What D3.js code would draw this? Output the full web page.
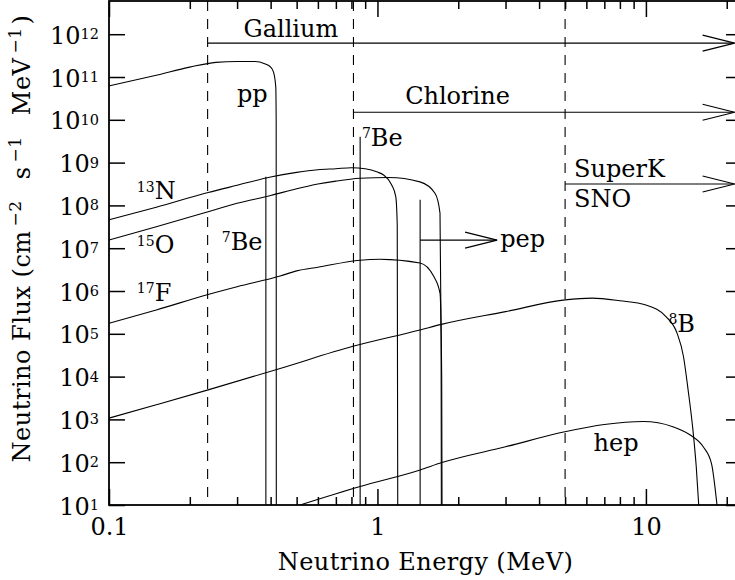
<!DOCTYPE html>
<html>
<head>
<meta charset="utf-8">
<script src="https://d3js.org/d3.v7.min.js"></script>
<style>
  body { margin: 0; background: #fff; }
  svg { display: block; font-family: "DejaVu Serif", serif; }
  text { fill: #000; }
</style>
</head>
<body>
<svg id="chart" width="735" height="580"></svg>
<script>
// energies in MeV, continuum fluxes in cm^-2 s^-1 MeV^-1, lines in cm^-2 s^-1
const ppE  = [0.1, 0.15, 0.2, 0.25, 0.3, 0.35, 0.38, 0.40, 0.41, 0.418, 0.4195, 0.42];
const ppF  = [6.2e10, 1.1e11, 1.7e11, 2.2e11, 2.3e11, 2.3e11, 2.05e11, 1.7e11, 1.3e11, 5.9e10, 1e10, 10];

const n13E = [0.1, 0.15, 0.234, 0.3, 0.4, 0.5, 0.6, 0.7, 0.8, 0.9, 1.0, 1.05, 1.13, 1.17, 1.185, 1.19];
const n13F = [4.6e7, 9.1e7, 2.0e8, 2.95e8, 4.6e8, 5.9e8, 6.8e8, 7.2e8, 7.6e8, 7.2e8, 6.0e8, 5.2e8, 3.0e8, 1.6e8, 3.5e7, 10];

const o15E = [0.1, 0.15, 0.234, 0.3, 0.4, 0.5, 0.6, 0.7, 0.86, 1.1, 1.44, 1.64, 1.71, 1.726, 1.73];
const o15F = [1.55e7, 3.16e7, 7.1e7, 1.12e8, 1.7e8, 2.45e8, 3.16e8, 3.7e8, 4.3e8, 4.5e8, 3.55e8, 1.9e8, 6.6e7, 1e5, 10];

const f17E = [0.1, 0.15, 0.234, 0.3, 0.434, 0.5, 0.6, 0.862, 1.02, 1.44, 1.62, 1.71, 1.735, 1.74];
const f17F = [1.76e5, 3.6e5, 8.3e5, 1.26e6, 2.24e6, 2.95e6, 3.6e6, 5.25e6, 5.5e6, 4.5e6, 2.2e6, 8.9e5, 1e4, 10];

const b8E  = [0.1, 0.15, 0.234, 0.434, 0.81, 1.44, 1.73, 3, 5, 6.3, 8, 10, 11.9, 13.05, 13.8, 14.36, 14.97, 15.4, 15.73];
const b8F  = [1.07e3, 2.2e3, 4.9e3, 1.55e4, 5.1e4, 1.23e5, 1.66e5, 3.3e5, 6.2e5, 6.8e5, 5.9e5, 4.7e5, 2.5e5, 1.05e5, 2.95e4, 4.9e3, 560, 78, 10];

const hepE = [0.515, 0.862, 1.442, 1.737, 3, 4.99, 7, 9.77, 12.6, 14.58, 16.35, 17.55, 18.4];
const hepF = [10, 27, 66, 98, 229, 513, 759, 891, 676, 437, 229, 93, 10];

// line sources
const lineE = [0.384, 0.862, 1.442];   // 7Be, 7Be, pep
const lineF = [4.7e8, 4.0e9, 1.35e8];

// detector thresholds and their arrows
const detectors   = ['Gallium', 'Chlorine', 'SuperK'];
const thresholdE  = [0.233, 0.814, 5.0];
const detectorF   = [6.2e11, 1.5e10, 3.16e8];
const arrowEndE   = 21.4;
const pepArrow    = {fromE: 1.442, toE: 2.79, F: 1.55e7};

// axes
const xMajor = [0.1, 1, 10];
const xMinor = [0.2, 0.3, 0.4, 0.5, 0.6, 0.7, 0.8, 0.9, 2, 3, 4, 5, 6, 7, 8, 9, 20];
const xLabels = ['0.1', '1', '10'];
const yExp = [1, 2, 3, 4, 5, 6, 7, 8, 9, 10, 11, 12];

const svg = d3.select('#chart');
const L = 109, R = 742, T = 1, B = 505;

const x = d3.scaleLog().domain([0.1, 22.8]).range([L, R]);
const y = d3.scaleLog().domain([10, 5.97e12]).range([B, T]);

svg.append('clipPath').attr('id', 'plot')
    .append('rect').attr('x', L).attr('y', T).attr('width', R - L).attr('height', B - T);

const plot = svg.append('g').attr('clip-path', 'url(#plot)');

// spectra
const spectra = [[ppE, ppF], [n13E, n13F], [o15E, o15F], [f17E, f17F], [b8E, b8F], [hepE, hepF]];
const line = d3.line()
    .x(d => x(d[0]))
    .y(d => y(d[1]))
    .curve(d3.curveMonotoneX);

plot.selectAll('path.spec')
    .data(spectra.map(s => d3.zip(s[0], s[1])))
    .join('path')
    .attr('class', 'spec')
    .attr('d', line)
    .attr('fill', 'none')
    .attr('stroke', '#000')
    .attr('stroke-width', 1.1);

// monochromatic lines
plot.selectAll('line.mono')
    .data(d3.zip(lineE, lineF))
    .join('line')
    .attr('x1', d => x(d[0])).attr('x2', d => x(d[0]))
    .attr('y1', y(10)).attr('y2', d => y(d[1]))
    .attr('stroke', '#000')
    .attr('stroke-width', 1.1);

// thresholds
plot.selectAll('line.thr')
    .data(thresholdE)
    .join('line')
    .attr('x1', d => x(d)).attr('x2', d => x(d))
    .attr('y1', T).attr('y2', B)
    .attr('stroke', '#000')
    .attr('stroke-width', 1.1)
    .attr('stroke-dasharray', '10,8');

// arrows
function arrow(e0, e1, f) {
    const yy = y(f), x0 = x(e0), x1 = x(e1);
    plot.append('line')
        .attr('x1', x0).attr('x2', x1).attr('y1', yy).attr('y2', yy)
        .attr('stroke', '#000').attr('stroke-width', 1.2);
    plot.append('path')
        .attr('d', `M${x1 - 32},${yy - 8}L${x1},${yy}L${x1 - 32},${yy + 8}`)
        .attr('fill', 'none').attr('stroke', '#000').attr('stroke-width', 1.2);
}
thresholdE.forEach((e, i) => arrow(e, arrowEndE, detectorF[i]));
arrow(pepArrow.fromE, pepArrow.toE, pepArrow.F);

// ticks
function styleAxis(g) {
    g.select('.domain').remove();
    g.attr('font-family', null).attr('font-size', null);
    g.selectAll('line').attr('stroke', '#000').attr('stroke-width', 1.5);
}
svg.append('g').attr('transform', `translate(0,${B})`)
    .call(d3.axisBottom(x).tickValues(xMajor).tickSize(-16).tickPadding(13)
        .tickFormat((d, i) => xLabels[i]))
    .call(styleAxis)
    .selectAll('text').attr('font-size', 24);
svg.append('g').attr('transform', `translate(0,${B})`)
    .call(d3.axisBottom(x).tickValues(xMinor).tickSize(-8).tickFormat(''))
    .call(styleAxis);
svg.append('g').attr('transform', `translate(0,${T})`)
    .call(d3.axisTop(x).tickValues(xMajor).tickSize(-16).tickFormat(''))
    .call(styleAxis);
svg.append('g').attr('transform', `translate(0,${T})`)
    .call(d3.axisTop(x).tickValues(xMinor).tickSize(-8).tickFormat(''))
    .call(styleAxis);
svg.append('g').attr('transform', `translate(${L},0)`)
    .call(d3.axisLeft(y).tickValues(yExp.map(e => Math.pow(10, e))).tickSize(-16).tickFormat(''))
    .call(styleAxis);
svg.append('g').attr('transform', `translate(${R},0)`)
    .call(d3.axisRight(y).tickValues(yExp.map(e => Math.pow(10, e))).tickSize(-16).tickFormat(''))
    .call(styleAxis);

// y tick labels 10^n
const yl = svg.append('g').selectAll('text')
    .data(yExp)
    .join('text')
    .attr('x', 99)
    .attr('y', d => y(Math.pow(10, d)) + 9.5)
    .attr('text-anchor', 'end');
yl.append('tspan').attr('font-size', 24).text('10');
yl.append('tspan').attr('font-size', 14.5).attr('dy', -4.5).text(d => d);

// frame
svg.append('rect')
    .attr('x', L).attr('y', T).attr('width', R - L).attr('height', B - T)
    .attr('fill', 'none').attr('stroke', '#000').attr('stroke-width', 1.8);

// axis titles
svg.append('text')
    .attr('x', (L + R) / 2).attr('y', 570)
    .attr('text-anchor', 'middle')
    .attr('font-size', 24)
    .attr('letter-spacing', 0.4)
    .text('Neutrino Energy (MeV)');

const yt = svg.append('text')
    .attr('transform', 'translate(30,238.5) rotate(-90)')
    .attr('text-anchor', 'middle')
    .attr('font-size', 24)
    .attr('letter-spacing', 0.5);
[['Neutrino Flux (cm', 0], ['\u22122', 1], [' s', 0], ['\u22121', 1], [' MeV', 0], ['\u22121', 1], [')', 0]]
    .forEach(([t, sup], i, arr) => {
        const ts = yt.append('tspan').text(t);
        if (sup) ts.attr('font-size', 17).attr('dy', -9).attr('dx', 4);
        else if (i > 0 && arr[i - 1][1]) ts.attr('dy', 9).attr('dx', t === ')' ? 3 : 13);
    });

// annotations: [E, flux at baseline, superscript, text]
const notes = [
    [0.317, 8.7e11, '', 'Gallium'],
    [1.268, 2.34e10, '', 'Chlorine'],
    [5.40, 4.7e8, '', 'SuperK'],
    [5.40, 9.3e7, '', 'SNO'],
    [0.2995, 2.6e10, '', 'pp'],
    [0.127, 1.38e8, '13', 'N'],
    [0.127, 7.6e6, '15', 'O'],
    [0.127, 5.9e5, '17', 'F'],
    [0.263, 9.1e6, '7', 'Be'],
    [0.875, 2.48e9, '7', 'Be'],
    [2.865, 1.08e7, '', 'pep'],
    [12.13, 1.12e5, '8', 'B'],
    [6.38, 186, '', 'hep']
];
const nt = svg.append('g').selectAll('text')
    .data(notes)
    .join('text')
    .attr('x', d => x(d[0]))
    .attr('y', d => y(d[1]))
    .attr('font-size', 24);
nt.filter(d => d[2]).append('tspan').attr('font-size', 14).attr('dy', -7.5).text(d => d[2]);
nt.append('tspan').attr('dy', d => d[2] ? 7.5 : 0).text(d => d[3]);
</script>
</body>
</html>
